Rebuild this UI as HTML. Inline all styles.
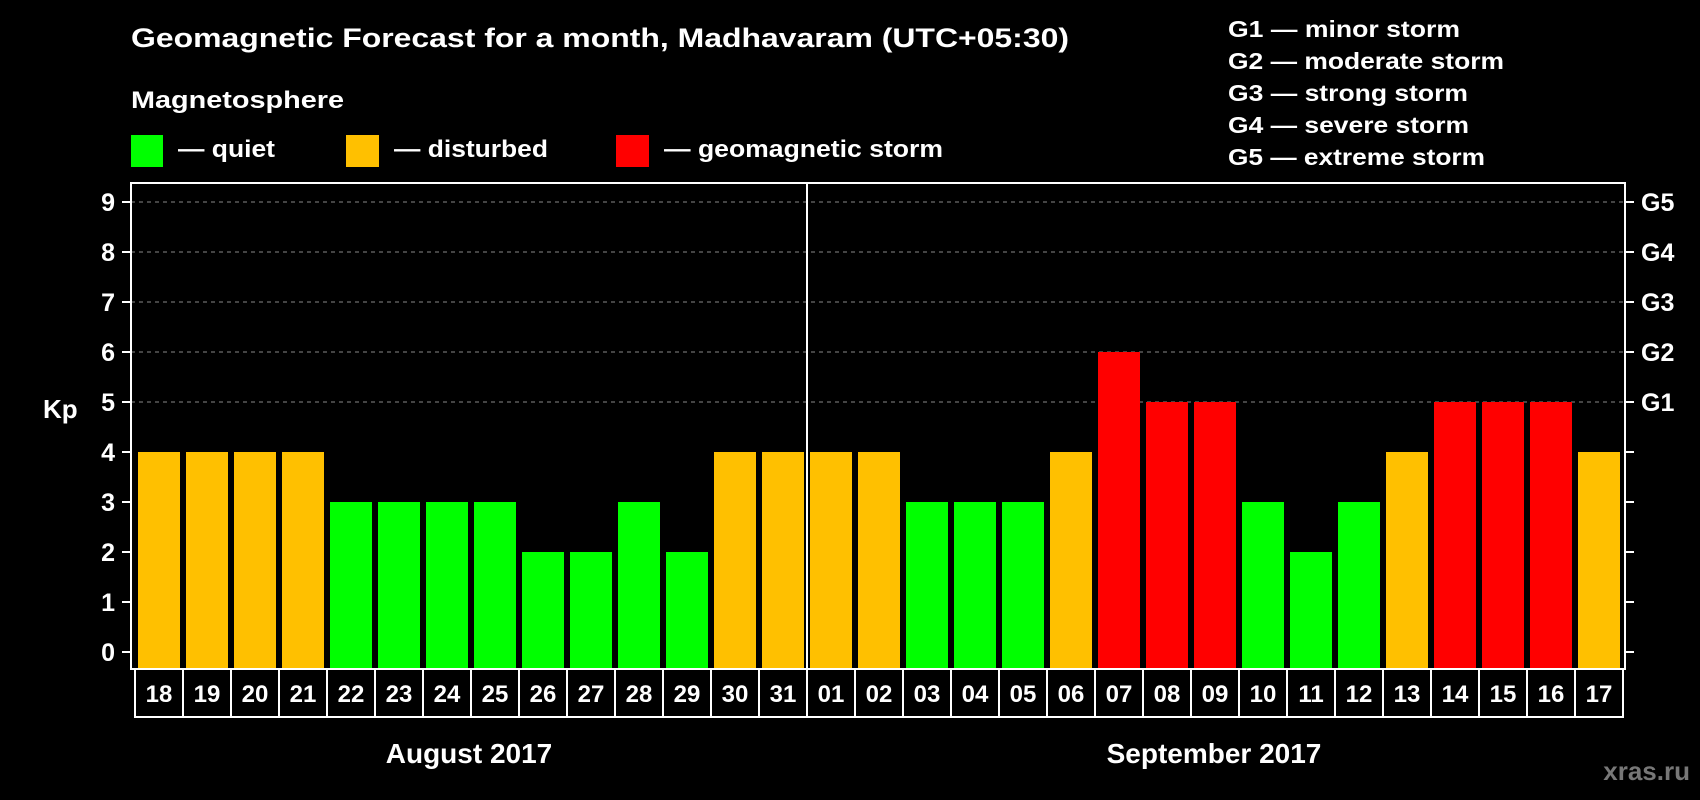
<!DOCTYPE html>
<html><head><meta charset="utf-8"><style>
html,body{margin:0;padding:0;background:#000;}
svg{display:block;font-family:"Liberation Sans",sans-serif;font-weight:bold;}
</style></head><body>
<svg id="chart" width="1700" height="800" viewBox="0 0 1700 800" xmlns="http://www.w3.org/2000/svg">
<rect width="1700" height="800" fill="#000"/>
<text x="131" y="47" font-size="27" fill="#fff" textLength="938" lengthAdjust="spacingAndGlyphs">Geomagnetic Forecast for a month, Madhavaram (UTC+05:30)</text>
<text x="131" y="108" font-size="24" fill="#fff" textLength="213" lengthAdjust="spacingAndGlyphs">Magnetosphere</text>
<g>
<rect x="131" y="135" width="32" height="32" fill="#00ff00"/>
<text x="178" y="157" font-size="24" fill="#fff" textLength="97" lengthAdjust="spacingAndGlyphs">— quiet</text></g>
<g>
<rect x="346" y="135" width="33" height="32" fill="#ffc000"/>
<text x="394" y="157" font-size="24" fill="#fff" textLength="154" lengthAdjust="spacingAndGlyphs">— disturbed</text></g>
<g>
<rect x="616" y="135" width="33" height="32" fill="#ff0000"/>
<text x="664" y="157" font-size="24" fill="#fff" textLength="279" lengthAdjust="spacingAndGlyphs">— geomagnetic storm</text></g>
<g font-size="23" fill="#fff">
<text x="1228" y="37" textLength="232" lengthAdjust="spacingAndGlyphs">G1 — minor storm</text>
<text x="1228" y="69" textLength="276" lengthAdjust="spacingAndGlyphs">G2 — moderate storm</text>
<text x="1228" y="101" textLength="240" lengthAdjust="spacingAndGlyphs">G3 — strong storm</text>
<text x="1228" y="133" textLength="241" lengthAdjust="spacingAndGlyphs">G4 — severe storm</text>
<text x="1228" y="165" textLength="257" lengthAdjust="spacingAndGlyphs">G5 — extreme storm</text>
</g>
<text x="43" y="418" font-size="26" fill="#fff">Kp</text>
<g id="grid"></g><g id="bars"></g><g id="axes"></g>
<text x="469" y="763" font-size="28" fill="#fff" text-anchor="middle">August 2017</text>
<text x="1214" y="763" font-size="28" fill="#fff" text-anchor="middle">September 2017</text>
<text x="1690" y="780" font-size="26" fill="#777" text-anchor="end">xras.ru</text>
</svg>
<script>
const days = ["18","19","20","21","22","23","24","25","26","27","28","29","30","31","01","02","03","04","05","06","07","08","09","10","11","12","13","14","15","16","17"];
const kpValues = [4,4,4,4,3,3,3,3,2,2,3,2,4,4,4,4,3,3,3,4,6,5,5,3,2,3,4,5,5,5,4];
const yTicks = [0,1,2,3,4,5,6,7,8,9];
const gLabels = ["G1","G2","G3","G4","G5"];
const monthBreak = 14;

const NS="http://www.w3.org/2000/svg";
const plotL=131,plotR=1625,plotT=183,plotB=669,slot0=135,pitch=48;
function yS(v){return 652-v*50;}
function xS(i){return slot0+i*pitch;}
function mk(tag,attrs,parent){const e=document.createElementNS(NS,tag);for(const k in attrs)e.setAttribute(k,attrs[k]);parent.appendChild(e);return e;}
const grid=document.getElementById('grid'),bars=document.getElementById('bars'),axes=document.getElementById('axes');
yTicks.forEach(v=>{
  if(v>=5){const l=mk('line',{x1:plotL,x2:plotR,y1:yS(v),y2:yS(v),stroke:'#888','stroke-width':1,'stroke-dasharray':'4,4'},grid);
  
  }
  const t1=mk('line',{x1:122,x2:plotL,y1:yS(v),y2:yS(v),stroke:'#fff','stroke-width':2},axes);
  
  
  const t2=mk('line',{x1:plotR,x2:plotR+9,y1:yS(v),y2:yS(v),stroke:'#fff','stroke-width':2},axes);
  
  
  const tx=mk('text',{x:115,y:yS(v)+9,'font-size':25,fill:'#fff','text-anchor':'end'},axes);
  tx.textContent=v;
  
  
});
gLabels.forEach((g,i)=>{
  const tx=mk('text',{x:1641,y:yS(5+i)+9,'font-size':25,fill:'#fff'},axes);
  tx.textContent=g;
  
  
});
kpValues.forEach((v,i)=>{
  const c=v>=5?'#ff0000':(v>=4?'#ffc000':'#00ff00');
  const r=mk('rect',{x:xS(i)+3,y:yS(v),width:42,height:plotB-1-yS(v),fill:c},bars);
  
  
});
const frame=mk('rect',{x:plotL,y:plotT,width:plotR-plotL,height:plotB-plotT,fill:'none',stroke:'#fff','stroke-width':2},axes);


const box=mk('rect',{x:slot0,y:plotB,width:pitch*days.length,height:48,fill:'none',stroke:'#fff','stroke-width':2},axes);


days.forEach((d,i)=>{
  if(i>0){const l=mk('line',{x1:xS(i),x2:xS(i),y1:plotB,y2:717,stroke:'#fff','stroke-width':2},axes);
  
  }
  const t=mk('text',{x:xS(i)+pitch/2,y:702,'font-size':24,fill:'#fff','text-anchor':'middle'},axes);
  t.textContent=d;
  
  
});
const sep=mk('line',{x1:xS(monthBreak),x2:xS(monthBreak),y1:plotT,y2:plotB,stroke:'#fff','stroke-width':2},axes);


</script>
</body></html>
